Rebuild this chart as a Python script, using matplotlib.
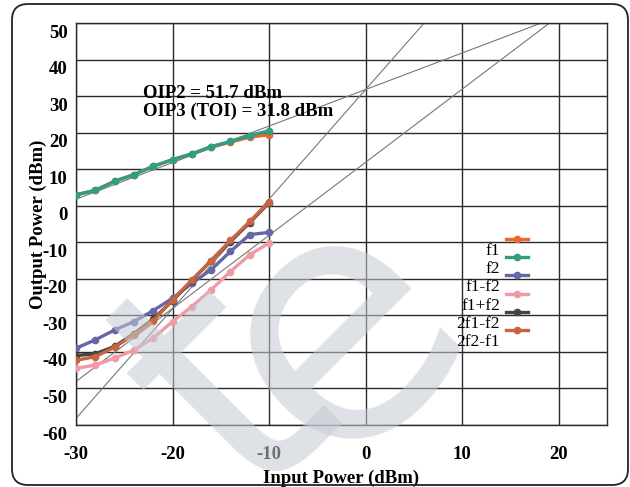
import matplotlib
matplotlib.use("Agg")
import matplotlib.pyplot as plt
from matplotlib.patches import FancyBboxPatch
from matplotlib.transforms import IdentityTransform, ScaledTranslation

plt.rcParams["axes.unicode_minus"] = False

# input power sweep (dBm)
input_dbm = [-30, -28, -26, -24, -22, -20, -18, -16, -14, -12, -10]

# measured output tones (dBm)
f1 = [3.0, 4.2, 6.7, 8.5, 10.8, 12.6, 14.2, 16.0, 17.4, 18.8, 19.4]
f2 = [3.0, 4.2, 6.7, 8.5, 10.8, 12.6, 14.2, 16.2, 17.6, 19.2, 20.5]
f1_minus_f2 = [-39.0, -36.7, -34.0, -31.7, -28.7, -25.3, -21.2, -17.5, -12.5, -7.9, -7.3]
f1_plus_f2 = [-44.5, -43.6, -41.7, -39.5, -36.2, -31.7, -27.6, -23.0, -18.0, -13.4, -10.2]
im3_low = [-41.0, -40.5, -38.5, -35.0, -31.0, -26.0, -20.5, -15.0, -9.8, -4.6, 0.8]
im3_high = [-42.3, -41.3, -38.7, -35.3, -31.5, -25.8, -20.3, -15.0, -9.5, -4.3, 1.0]

series = [
    ("f1", f1, "#ee6530"),
    ("f2", f2, "#2f9f7f"),
    ("f1-f2", f1_minus_f2, "#6767a8"),
    ("f1+f2", f1_plus_f2, "#f09aa6"),
    ("2f1-f2", im3_low, "#454545"),
    ("2f2-f1", im3_high, "#c8653f"),
]

# intercept points
oip2 = 51.7
oip3 = 31.8
gain = 31.8
ext_x = [-30, 25]

serif = ["Liberation Serif", "DejaVu Serif"]

fig = plt.figure(figsize=(6.3, 4.87), dpi=100)
ax = fig.add_axes([76 / 630, 1 - 425 / 487, 531 / 630, 402 / 487])

# extrapolation lines
iip3 = oip3 - gain
iip2 = oip2 - gain
ax.plot(ext_x, [x + gain for x in ext_x], color="#777777", lw=0.8, zorder=2)
ax.plot(ext_x, [2 * x + oip2 - 2 * iip2 for x in ext_x], color="#777777", lw=0.8, zorder=2)
ax.plot(ext_x, [3 * x + oip3 - 3 * iip3 for x in ext_x], color="#777777", lw=0.8, zorder=2)

for name, vals, col in series:
    ax.plot(input_dbm, vals, color=col, lw=2.4, marker="o", markersize=4.5,
            label=name, zorder=3)

ax.set_xlim(-30, 25)
ax.set_ylim(-60, 50)
ax.set_xticks(range(-30, 21, 10))
ax.set_yticks(range(-60, 51, 10))
ax.grid(True, color="#2a2a2a", lw=1.0, zorder=1)
ax.set_axisbelow(True)
for sp in ax.spines.values():
    sp.set_color("#2a2a2a")
    sp.set_linewidth(1.0)

ax.tick_params(length=0)
ax.tick_params(axis="x", pad=15)
ax.tick_params(axis="y", pad=6)
for lab in ax.get_xticklabels() + ax.get_yticklabels():
    lab.set_family(serif)
    lab.set_fontweight("bold")
    lab.set_fontsize(13.5)
shift = ScaledTranslation(0, -8 / 100, fig.dpi_scale_trans)
for lab in ax.get_yticklabels():
    lab.set_transform(lab.get_transform() + shift)

ax.set_xlabel("Input Power (dBm)", family=serif, fontweight="bold", fontsize=13.5)
ax.set_ylabel("Output Power (dBm)", family=serif, fontweight="bold", fontsize=13.5)
ax.xaxis.set_label_coords(0.5, -0.11)
ax.yaxis.set_label_coords(-0.055, 0.5)

ax.text(-23.1, 30.7, "OIP2 = %.1f dBm" % oip2, family=serif, fontweight="bold",
        fontsize=13.5, va="center", ha="left", zorder=4)
ax.text(-23.1, 25.8, "OIP3 (TOI) = %.1f dBm" % oip3, family=serif, fontweight="bold",
        fontsize=13.5, va="center", ha="left", zorder=4)

leg = ax.legend(loc="upper right", bbox_to_anchor=(0.851, 0.478), frameon=False,
                markerfirst=False, handlelength=1.25, handletextpad=0.35,
                labelspacing=0.12, borderpad=0, borderaxespad=0,
                prop={"family": serif, "size": 12.5})
for t in leg.get_texts():
    t.set_y(-10)

# translucent watermark letters over the plot
wm = dict(fontsize=247, color="#c5cad3", alpha=0.56, rotation=45,
          ha="center", va="center", family="DejaVu Sans", zorder=10)
fig.text(232 / 630, 1 - 392 / 487, "t", **wm)
fig.text(338 / 630, 1 - 331 / 487, "e", **wm)

# rounded outer frame
frame = FancyBboxPatch((12, 2), 616, 481, boxstyle="round,pad=0,rounding_size=16",
                       transform=IdentityTransform(), fill=False, ec="#222222", lw=1.3)
fig.patches.append(frame)

fig.savefig("out.png", dpi=100)
